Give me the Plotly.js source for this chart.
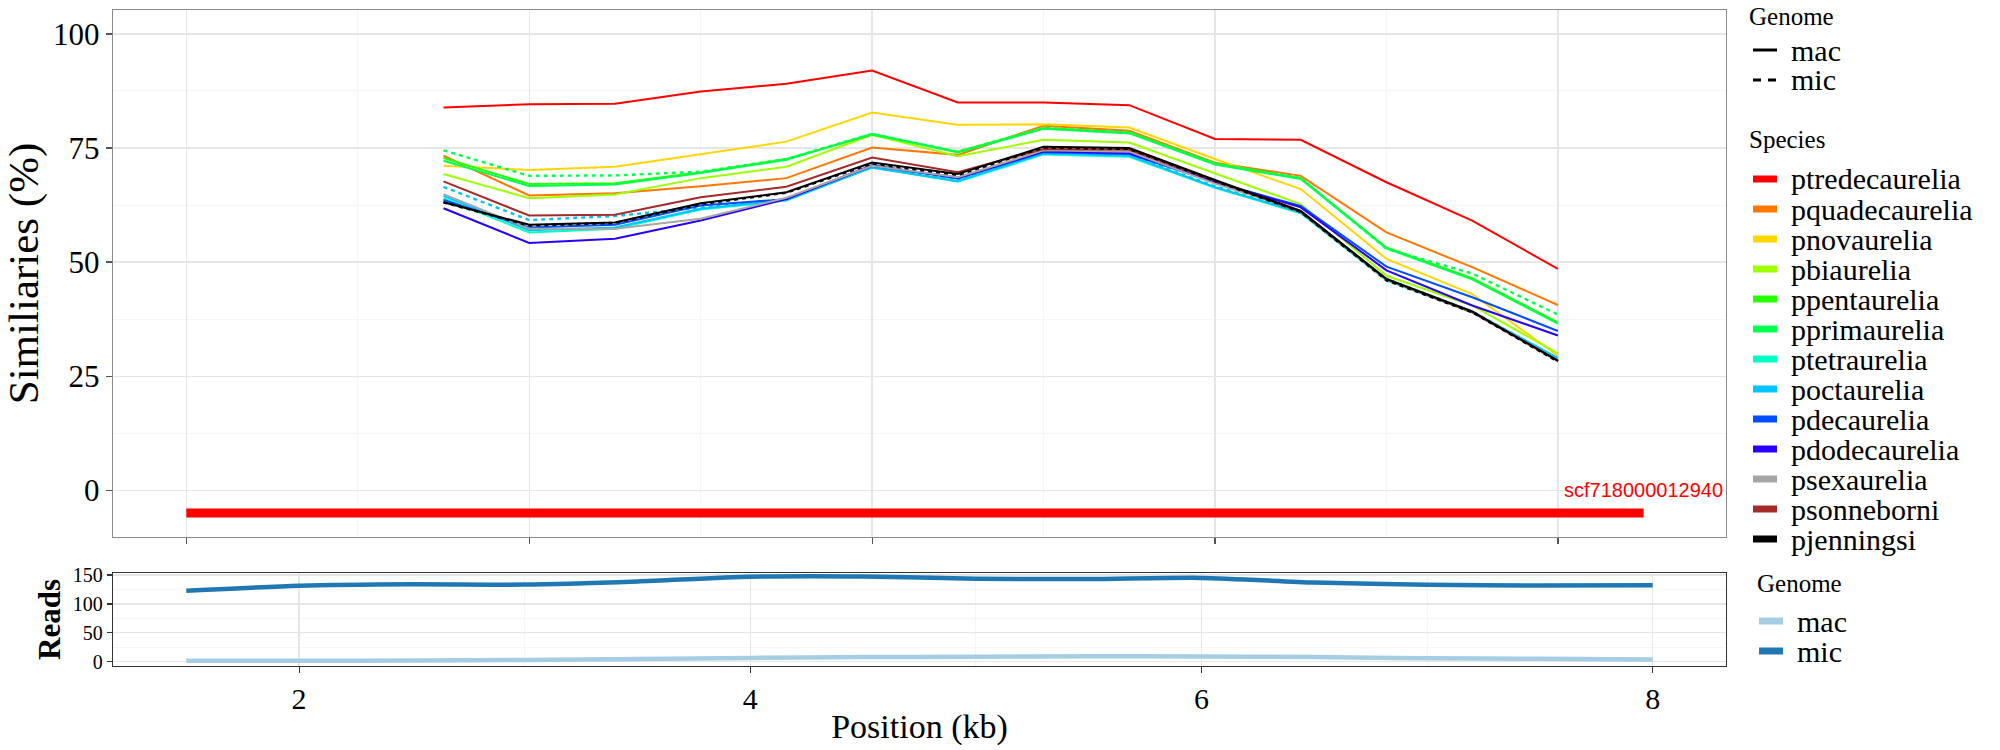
<!DOCTYPE html>
<html>
<head>
<meta charset="utf-8">
<script src="https://cdn.plot.ly/plotly-3.0.1.min.js"></script>
<style>
  html, body { margin: 0; padding: 0; background: #ffffff; }
  #chart { width: 2000px; height: 750px; }
</style>
</head>
<body>
<div id="chart"></div>
<script>
// ---------------- DATA ----------------
// Top panel: window positions (kb)
const windowPos = [2.64, 3.02, 3.40, 3.78, 4.16, 4.54, 4.92, 5.30, 5.68, 6.06, 6.44, 6.82, 7.20, 7.58];

const species = ['ptredecaurelia', 'pquadecaurelia', 'pnovaurelia', 'pbiaurelia', 'ppentaurelia',
  'pprimaurelia', 'ptetraurelia', 'poctaurelia', 'pdecaurelia', 'pdodecaurelia',
  'psexaurelia', 'psonneborni', 'pjenningsi'];
const speciesColors = ['#FF0000', '#FF7600', '#FFD700', '#9DFF00', '#27FF00',
  '#00FF4E', '#00FFC4', '#00C4FF', '#004EFF', '#2700FF',
  '#A6A6A6', '#A52A2A', '#000000'];

// Similarities (%) – mac genome
const ptredecaureliaMac = [83.9, 84.6, 84.7, 87.4, 89.1, 92.0, 85.0, 85.0, 84.4, 77.0, 76.8, 67.5, 59.1, 48.5];
const pquadecaureliaMac = [73.3, 64.6, 65.1, 66.6, 68.4, 75.1, 73.5, 79.9, 78.8, 71.8, 68.9, 56.5, 48.9, 40.6];
const pnovaureliaMac    = [71.1, 70.2, 70.9, 73.7, 76.4, 82.8, 80.1, 80.2, 79.5, 72.6, 66.0, 50.7, 43.0, 29.5];
const pbiaureliaMac     = [69.3, 64.0, 64.8, 68.4, 70.9, 77.9, 73.2, 76.8, 76.2, 69.4, 62.7, 47.0, 40.5, 30.0];
const ppentaureliaMac   = [72.8, 67.1, 67.3, 69.7, 72.6, 77.9, 74.2, 79.4, 78.4, 71.6, 68.4, 53.2, 46.5, 36.8];
const pprimaureliaMac   = [72.2, 66.7, 67.0, 69.5, 72.4, 78.1, 74.0, 79.2, 78.2, 71.4, 68.2, 53.0, 46.2, 36.5];
const ptetraureliaMac   = [64.0, 56.5, 57.3, 61.5, 63.5, 70.8, 67.6, 73.6, 73.1, 66.3, 60.7, 46.0, 39.0, 28.6];
const poctaureliaMac    = [64.5, 57.0, 57.6, 61.7, 63.6, 70.7, 67.8, 73.8, 73.3, 66.4, 60.9, 46.2, 39.1, 29.0];
const pdecaureliaMac    = [63.6, 57.6, 58.2, 62.4, 63.8, 71.3, 68.3, 74.1, 73.7, 67.5, 62.3, 49.0, 42.3, 34.9];
const pdodecaureliaMac  = [61.8, 54.2, 55.1, 59.1, 63.8, 71.1, 68.5, 74.3, 73.9, 67.6, 62.0, 48.2, 40.5, 33.9];
const psexaureliaMac    = [64.9, 57.3, 57.3, 59.5, 64.1, 71.1, 68.6, 74.5, 74.2, 67.2, 61.2, 46.3, 39.2, 28.4];
const psonneborniMac    = [67.7, 60.2, 60.4, 64.2, 66.5, 72.9, 69.7, 74.8, 74.6, 67.8, 61.0, 46.2, 39.0, 28.3];
const pjenningsiMac     = [63.1, 58.2, 58.7, 62.9, 65.3, 71.8, 69.3, 75.3, 75.0, 68.0, 61.2, 46.3, 39.2, 28.4];

// Similarities (%) – mic genome (where distinguishable)
const pprimaureliaMic   = [74.5, 68.9, 69.0, 69.8, 72.6, 78.1, 74.2, 79.4, 78.4, 71.6, 68.4, 52.9, 47.5, 38.5];
const poctaureliaMic    = [66.5, 59.2, 60.1, 62.0, 63.8, 71.0, 68.0, 74.0, 73.5, 66.6, 61.0, 46.3, 39.2, 28.8];
const pjenningsiMic     = [63.1, 58.0, 58.6, 62.7, 65.2, 71.6, 69.1, 75.1, 74.8, 67.8, 61.0, 46.0, 39.0, 28.2];

// Contig bar
const contigName = 'scf718000012940';
const contigStart = 1.5;
const contigEnd = 7.96;
const contigLevel = -5;

// Bottom panel: reads
const readsPos = [1.5, 2.0, 2.5, 3.0, 3.5, 4.0, 4.5, 5.0, 5.5, 6.0, 6.5, 7.0, 7.5, 8.0];
const readsMic = [123, 131.5, 134, 133.5, 139, 147, 147.5, 143.5, 143, 145, 137, 133, 132, 132.5];
const readsMac = [1.5, 1.5, 2, 3, 4.5, 6.5, 8, 8.5, 9.5, 9, 8, 6, 5, 4];
const genomeLevels = ['mac', 'mic'];
const readsColors = ['#A6CEE3', '#1F78B4'];

// Tick labels
const simTicks = [0, 25, 50, 75, 100];
const simMinor = [12.5, 37.5, 62.5, 87.5];
const topXTicks = [1.5, 3.02, 4.54, 6.06, 7.58];
const topXMinor = [2.26, 3.78, 5.30, 6.82];
const posTicks = [2, 4, 6, 8];
const posMinor = [3, 5, 7];
const readTicks = [0, 50, 100, 150];
const readMinor = [25, 75, 125];

// ---------------- BUILD ----------------
const macSeries = [ptredecaureliaMac, pquadecaureliaMac, pnovaureliaMac, pbiaureliaMac, ppentaureliaMac,
  pprimaureliaMac, ptetraureliaMac, poctaureliaMac, pdecaureliaMac, pdodecaureliaMac,
  psexaureliaMac, psonneborniMac, pjenningsiMac];
const micSeries = { pprimaurelia: pprimaureliaMic, poctaurelia: poctaureliaMic, pjenningsi: pjenningsiMic };

const SERIF = 'Liberation Serif, Times New Roman, serif';
const traces = [];

// contig bar
traces.push({
  x: [contigStart, contigEnd], y: [contigLevel, contigLevel],
  xaxis: 'x', yaxis: 'y', mode: 'lines', showlegend: false, hoverinfo: 'skip',
  line: { color: '#FF0000', width: 9 }
});

species.forEach((sp, i) => {
  traces.push({
    x: windowPos, y: macSeries[i], xaxis: 'x', yaxis: 'y', mode: 'lines',
    name: sp + ' mac', showlegend: false,
    line: { color: speciesColors[i], width: 2 }
  });
  if (micSeries[sp]) {
    traces.push({
      x: windowPos, y: micSeries[sp], xaxis: 'x', yaxis: 'y', mode: 'lines',
      name: sp + ' mic', showlegend: false,
      line: { color: speciesColors[i], width: 2.4, dash: '4px,4px' }
    });
  }
});

[readsMac, readsMic].forEach((vals, i) => {
  traces.push({
    x: readsPos, y: vals, xaxis: 'x2', yaxis: 'y2', mode: 'lines',
    name: genomeLevels[i], showlegend: false,
    line: { color: readsColors[i], width: 4.5, shape: 'spline', smoothing: 0.7 }
  });
});

// Pixel -> paper helpers (plot area = 113..1726 x 10..666)
const L = 113, R = 1726, T = 10, B = 666;
const px = v => (v - L) / (R - L);
const py = v => (B - v) / (B - T);

const shapes = [];
const annotations = [];

// contig label
annotations.push({
  x: contigEnd, y: 0, xref: 'x', yref: 'y', text: contigName, showarrow: false,
  xanchor: 'center', yanchor: 'middle',
  font: { family: 'Liberation Sans, Arial, sans-serif', size: 20, color: '#FF0000' }
});

// Legend helpers
function legendTitle(text, xPix, yPix) {
  annotations.push({ x: px(xPix), y: py(yPix), xref: 'paper', yref: 'paper', text: text, showarrow: false,
    xanchor: 'left', yanchor: 'middle', font: { family: SERIF, size: 25, color: '#000' } });
}
function legendLabel(text, xPix, yPix) {
  annotations.push({ x: px(xPix), y: py(yPix), xref: 'paper', yref: 'paper', text: text, showarrow: false,
    xanchor: 'left', yanchor: 'middle', font: { family: SERIF, size: 30, color: '#000' } });
}

// Legend: Genome (line type)
legendTitle('Genome', 1747, 16);
const lineTypes = ['solid', '8px,7px'];
genomeLevels.forEach((g, i) => {
  const yy = 50 + i * 30;
  shapes.push({ type: 'line', xref: 'paper', yref: 'paper', x0: px(1753), x1: px(1777), y0: py(yy), y1: py(yy),
    line: { color: '#000', width: 3, dash: lineTypes[i] } });
  legendLabel(g, 1789, yy);
});

// Legend: Species (colour)
legendTitle('Species', 1747, 140);
species.forEach((sp, i) => {
  const yy = 179 + i * 30;
  shapes.push({ type: 'line', xref: 'paper', yref: 'paper', x0: px(1753), x1: px(1777), y0: py(yy), y1: py(yy),
    line: { color: speciesColors[i], width: 7 } });
  legendLabel(sp, 1789, yy);
});

// Bottom legend: Genome (colour)
legendTitle('Genome', 1755, 583);
genomeLevels.forEach((g, i) => {
  const yy = 621 + i * 30;
  shapes.push({ type: 'line', xref: 'paper', yref: 'paper', x0: px(1759), x1: px(1783), y0: py(yy), y1: py(yy),
    line: { color: readsColors[i], width: 7 } });
  legendLabel(g, 1795, yy);
});

const gridMajor = '#E6E6E6';
const gridMinor = '#F2F2F2';

const layout = {
  width: 2000, height: 750,
  margin: { l: L, r: 2000 - R, t: T, b: 750 - B, pad: 0 },
  paper_bgcolor: '#ffffff', plot_bgcolor: '#ffffff',
  font: { family: SERIF, color: '#000' },
  showlegend: false,
  xaxis: {
    anchor: 'y', domain: [0, 1], range: [1.175, 8.325],
    tickmode: 'array', tickvals: topXTicks, showticklabels: false,
    ticks: 'outside', ticklen: 6, tickwidth: 1.2, tickcolor: '#555',
    showgrid: true, gridcolor: gridMajor, gridwidth: 1.3,
    minor: { tickmode: 'array', tickvals: topXMinor, showgrid: true, gridcolor: gridMinor, gridwidth: 0.8, ticks: '' },
    showline: true, mirror: true, linecolor: '#8a8a8a', linewidth: 1.2, zeroline: false
  },
  yaxis: {
    anchor: 'x', domain: [(B - 537) / (B - T), 1], range: [-10.25, 105.25],
    tickmode: 'array', tickvals: simTicks, ticktext: simTicks.map(String),
    ticks: 'outside', ticklen: 6, tickwidth: 1.2, tickcolor: '#555',
    tickfont: { family: SERIF, size: 31, color: '#000' },
    showgrid: true, gridcolor: gridMajor, gridwidth: 1.3,
    minor: { tickmode: 'array', tickvals: simMinor, showgrid: true, gridcolor: gridMinor, gridwidth: 0.8, ticks: '' },
    showline: true, mirror: true, linecolor: '#8a8a8a', linewidth: 1.2, zeroline: false,
    title: { text: 'Similiaries (%)', font: { family: SERIF, size: 43, color: '#000' }, standoff: 8 }
  },
  xaxis2: {
    anchor: 'y2', domain: [0, 1], range: [1.175, 8.325],
    tickmode: 'array', tickvals: posTicks, ticktext: posTicks.map(String),
    ticks: 'outside', ticklen: 6, tickwidth: 1.2, tickcolor: '#333',
    tickfont: { family: SERIF, size: 30, color: '#000' },
    showgrid: true, gridcolor: gridMajor, gridwidth: 1.3,
    minor: { tickmode: 'array', tickvals: posMinor, showgrid: true, gridcolor: gridMinor, gridwidth: 0.8, ticks: '' },
    showline: true, mirror: true, linecolor: '#333', linewidth: 1.2, zeroline: false,
    title: { text: 'Position (kb)', font: { family: SERIF, size: 34, color: '#000' }, standoff: 0 }
  },
  yaxis2: {
    anchor: 'x2', domain: [0, (B - 573) / (B - T)], range: [-7.4, 153.5],
    tickmode: 'array', tickvals: readTicks, ticktext: readTicks.map(String),
    ticks: 'outside', ticklen: 5, tickwidth: 1.2, tickcolor: '#333',
    tickfont: { family: SERIF, size: 20, color: '#000' },
    showgrid: true, gridcolor: gridMajor, gridwidth: 1.3,
    minor: { tickmode: 'array', tickvals: readMinor, showgrid: true, gridcolor: gridMinor, gridwidth: 0.8, ticks: '' },
    showline: true, mirror: true, linecolor: '#333', linewidth: 1.2, zeroline: false,
    title: { text: '<b>Reads</b>', font: { family: SERIF, size: 31, color: '#000' }, standoff: 3 }
  },
  shapes: shapes,
  annotations: annotations
};

Plotly.newPlot('chart', traces, layout, { staticPlot: true, displayModeBar: false });
</script>
</body>
</html>
